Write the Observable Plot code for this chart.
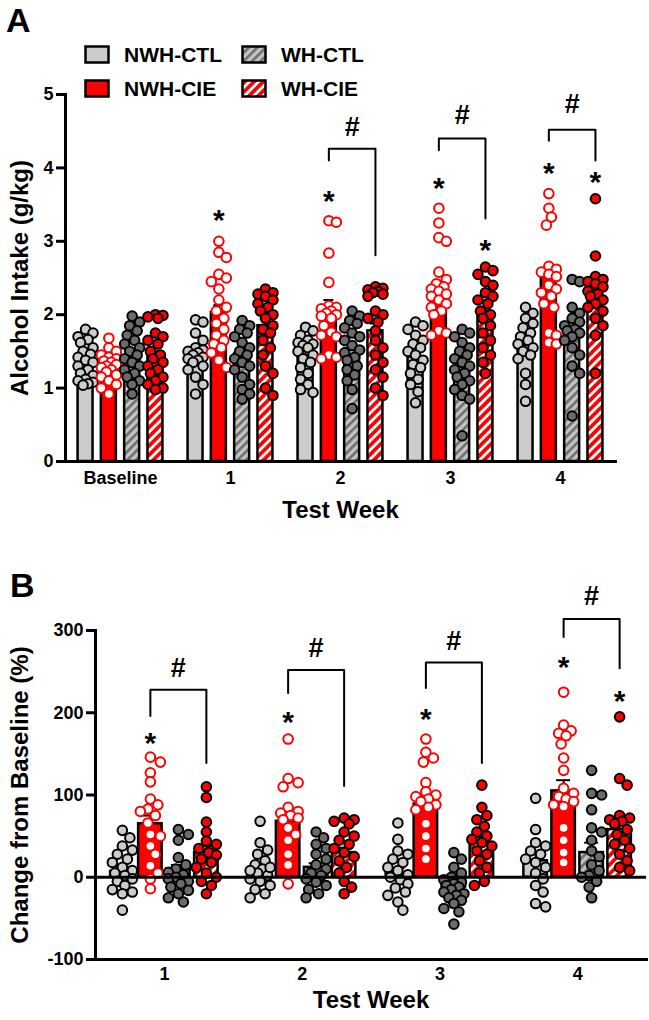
<!DOCTYPE html>
<html>
<head>
<meta charset="utf-8">
<script src="https://cdn.jsdelivr.net/npm/d3@7"></script>
<script src="https://cdn.jsdelivr.net/npm/@observablehq/plot@0.6"></script>
<style>
  body { margin: 0; background: #fff; }
  #fig { position: relative; width: 649px; height: 1020px; overflow: hidden;
         font-family: "Liberation Sans", Arial, sans-serif; font-weight: bold; color: #000; }
  .panel { position: absolute; left: 0; }
  .letter { position: absolute; font-size: 34px; line-height: 1; }
  .key { position: absolute; display: flex; align-items: center; font-size: 21px; line-height: 1; }
  .key svg { margin-right: 14px; }
</style>
</head>
<body>
<svg width="0" height="0" style="position:absolute">
  <defs>
    <pattern id="hatch-gray" patternUnits="userSpaceOnUse" width="6" height="6" patternTransform="rotate(45)">
      <rect width="6" height="6" fill="#c4c4c4"></rect>
      <rect width="2.6" height="6" fill="#6e6e6e"></rect>
    </pattern>
    <pattern id="hatch-red" patternUnits="userSpaceOnUse" width="6.5" height="6.5" patternTransform="rotate(45)">
      <rect width="6.5" height="6.5" fill="#ff0000"></rect>
      <rect width="2.8" height="6.5" fill="#ffffff"></rect>
    </pattern>
  </defs>
</svg>
<div id="fig"></div>
<script>
// ---- Groups and weeks ----
const groups = ["NWH-CTL", "NWH-CIE", "WH-CTL", "WH-CIE"];
const weeksA = ["Baseline", "1", "2", "3", "4"];
const weeksB = ["1", "2", "3", "4"];

// ---- Panel A: alcohol intake (g/kg); one inner list per week ----
const intakeNwhCtl = [
  [1.80, 1.75, 1.70, 1.66, 1.62, 1.55, 1.50, 1.46, 1.42, 1.38, 1.35, 1.30, 1.25, 1.20, 1.17, 1.12, 1.10, 1.08, 1.06, 1.04],
  [1.93, 1.90, 1.75, 1.65, 1.55, 1.52, 1.50, 1.48, 1.45, 1.42, 1.40, 1.38, 1.35, 1.30, 1.25, 1.15, 1.05, 0.92],
  [1.83, 1.78, 1.72, 1.65, 1.62, 1.60, 1.58, 1.55, 1.50, 1.45, 1.40, 1.35, 1.28, 1.20, 1.12, 1.05, 0.98, 0.94],
  [1.90, 1.85, 1.80, 1.72, 1.65, 1.60, 1.55, 1.50, 1.45, 1.38, 1.32, 1.28, 1.20, 1.12, 1.05, 0.95, 0.80],
  [2.10, 2.02, 1.95, 1.88, 1.82, 1.75, 1.70, 1.65, 1.60, 1.55, 1.50, 1.45, 1.40, 1.20, 1.05, 0.82]
];
const intakeNwhCie = [
  [1.68, 1.55, 1.50, 1.45, 1.42, 1.40, 1.37, 1.35, 1.32, 1.30, 1.28, 1.25, 1.22, 1.18, 1.15, 1.10, 1.05, 1.00, 0.92],
  [3.00, 2.85, 2.78, 2.55, 2.50, 2.45, 2.35, 2.20, 2.10, 2.05, 1.95, 1.88, 1.80, 1.72, 1.65, 1.60, 1.55, 1.48, 1.38, 1.28],
  [3.28, 3.26, 2.84, 2.44, 2.12, 2.10, 2.08, 2.05, 2.02, 2.00, 1.98, 1.95, 1.85, 1.76, 1.72, 1.70, 1.45, 1.42, 1.40],
  [3.45, 3.25, 3.05, 3.00, 2.58, 2.48, 2.42, 2.38, 2.35, 2.32, 2.28, 2.25, 2.20, 2.15, 2.10, 2.05, 2.00, 1.78, 1.75, 1.72],
  [3.65, 3.45, 3.33, 3.22, 2.66, 2.62, 2.58, 2.55, 2.52, 2.40, 2.35, 2.30, 2.25, 2.15, 2.10, 1.75, 1.72, 1.62, 1.60]
];
const intakeWhCtl = [
  [1.98, 1.90, 1.85, 1.78, 1.72, 1.65, 1.60, 1.55, 1.50, 1.45, 1.40, 1.35, 1.30, 1.25, 1.20, 1.15, 1.10, 1.05, 0.92],
  [1.92, 1.85, 1.80, 1.75, 1.70, 1.62, 1.55, 1.50, 1.45, 1.40, 1.35, 1.30, 1.25, 1.15, 1.05, 0.98, 0.92, 0.85],
  [2.05, 1.98, 1.92, 1.88, 1.82, 1.75, 1.70, 1.65, 1.58, 1.52, 1.48, 1.42, 1.38, 1.30, 1.25, 1.18, 1.10, 0.98, 0.72],
  [1.80, 1.75, 1.70, 1.62, 1.55, 1.50, 1.45, 1.40, 1.35, 1.30, 1.25, 1.20, 1.15, 1.10, 1.05, 0.98, 0.90, 0.85, 0.35],
  [2.48, 2.45, 2.10, 2.02, 1.95, 1.90, 1.85, 1.80, 1.78, 1.75, 1.70, 1.65, 1.55, 1.45, 1.30, 1.20, 0.62]
];
const intakeWhCie = [
  [2.00, 1.99, 1.97, 1.95, 1.75, 1.70, 1.65, 1.60, 1.50, 1.45, 1.40, 1.35, 1.30, 1.25, 1.20, 1.15, 1.10, 1.05, 1.00, 0.98],
  [2.35, 2.30, 2.28, 2.25, 2.20, 2.15, 2.10, 2.05, 2.00, 1.95, 1.85, 1.80, 1.75, 1.65, 1.55, 1.45, 1.30, 1.20, 1.00, 0.90],
  [2.38, 2.36, 2.34, 2.32, 2.30, 2.28, 2.25, 2.05, 2.00, 1.95, 1.90, 1.78, 1.65, 1.55, 1.45, 1.35, 1.25, 1.15, 1.00, 0.90],
  [2.65, 2.60, 2.55, 2.45, 2.40, 2.30, 2.25, 2.20, 2.15, 2.05, 2.00, 1.95, 1.85, 1.75, 1.65, 1.55, 1.45, 1.35, 1.20],
  [3.58, 2.80, 2.52, 2.48, 2.45, 2.42, 2.38, 2.32, 2.28, 2.25, 2.20, 2.15, 2.10, 2.05, 1.95, 1.85, 1.72, 1.20]
];
// group means and SEM per week (rows follow the group order)
const intakeMeans = [
  [1.35, 1.44, 1.44, 1.42, 1.58],
  [1.27, 2.03, 2.08, 2.36, 2.51],
  [1.41, 1.47, 1.54, 1.24, 1.76],
  [1.43, 1.85, 1.78, 1.97, 2.24]
];
const intakeSems = [
  [0.05, 0.07, 0.06, 0.07, 0.08],
  [0.05, 0.10, 0.12, 0.10, 0.14],
  [0.07, 0.07, 0.07, 0.08, 0.09],
  [0.07, 0.09, 0.10, 0.09, 0.11]
];
// significance marks: * vs control, # between NWH-CIE and WH-CIE
const intakeStars = [
  {week: 1, group: 1, y: 3.39}, {week: 2, group: 1, y: 3.65},
  {week: 3, group: 1, y: 3.83}, {week: 3, group: 3, y: 2.98},
  {week: 4, group: 1, y: 4.03}, {week: 4, group: 3, y: 3.91}
];
const intakeBrackets = [
  {week: 2, top: 4.26, left: 4.10, right: 2.81, hash: 4.55},
  {week: 3, top: 4.40, left: 4.24, right: 3.31, hash: 4.71},
  {week: 4, top: 4.52, left: 4.37, right: 4.10, hash: 4.86}
];

// ---- Panel B: change from baseline (%) ----
const changeNwhCtl = [
  [57, 48, 38, 33, 28, 22, 18, 12, 8, 5, 2, -2, -5, -10, -15, -18, -20, -40],
  [68, 42, 33, 28, 20, 15, 10, 5, 2, -2, -5, -10, -15, -20, -25, 8, 12],
  [66, 46, 32, 28, 22, 18, 12, 8, 3, 0, -3, -8, -13, -18, -22, -30, -40],
  [96, 58, 42, 38, 32, 28, 22, 18, 12, 5, -2, -10, -18, -32, -36]
];
const changeNwhCie = [
  [146, 140, 127, 116, 95, 88, 83, 80, 75, 66, 52, 50, 38, 28, 14, 5, -2, -14],
  [168, 120, 115, 110, 85, 80, 78, 75, 72, 70, 60, 52, 45, 28, 15, -8],
  [168, 152, 145, 140, 115, 104, 100, 98, 95, 92, 88, 85, 82, 65, 50, 35, 22],
  [225, 185, 178, 175, 172, 162, 145, 130, 108, 102, 98, 95, 92, 88, 86, 60, 45, 30, 18]
];
const changeWhCtl = [
  [58, 52, 45, 24, 15, 10, 6, 3, 0, -2, -5, -8, -12, -16, -20, -25, -30],
  [55, 48, 40, 35, 28, 22, 15, 10, 5, 2, -2, -6, -10, -15, -20, -25],
  [30, 22, 12, 5, 0, -3, -6, -8, -10, -12, -15, -18, -20, -22, -25, -28, -32, -38, -42, -57],
  [130, 102, 100, 82, 60, 55, 45, 32, 25, 15, 8, 2, 0, -5, -12, -25]
];
const changeWhCie = [
  [110, 97, 67, 55, 44, 40, 35, 30, 27, 22, 18, 12, 5, 0, -5, -10, -20],
  [72, 70, 68, 65, 55, 50, 45, 40, 35, 30, 25, 20, 12, 5, -5, -12, -20],
  [112, 85, 75, 70, 62, 55, 50, 46, 42, 38, 32, 28, 20, 12, 5, -5, -10],
  [195, 120, 112, 75, 72, 70, 68, 65, 58, 52, 45, 40, 35, 28, 20, 12, 8]
];
const changeMeans = [
  [7, 8, 5, 20],
  [65, 68, 89, 105],
  [10, 12, -12, 30],
  [30, 30, 42, 58]
];
const changeSems = [
  [6, 6, 6, 8],
  [10, 11, 10, 13],
  [5, 5, 5, 12],
  [8, 6, 7, 11]
];
const changeStars = [
  {week: 1, group: 1, y: 173}, {week: 2, group: 1, y: 198},
  {week: 3, group: 1, y: 202}, {week: 4, group: 1, y: 265},
  {week: 4, group: 3, y: 224}
];
const changeBrackets = [
  {week: 1, top: 228, left: 196, right: 139, hash: 254},
  {week: 2, top: 252, left: 224, right: 111, hash: 278},
  {week: 3, top: 261, left: 230, right: 139, hash: 287},
  {week: 4, top: 314, left: 292, right: 254, hash: 342}
];

// ---- Group styles ----
const barFill = ["#cccccc", "#ff0000", "url(#hatch-gray)", "url(#hatch-red)"];
const dotFill = ["#cccccc", "#ffffff", "#6b6b6b", "#ff0000"];
const dotStroke = ["#000000", "#ff0000", "#000000", "#000000"];

// Spread the points of one column sideways (in pixels) so that they overlap less,
// keeping them within +-maxOff of the column centre.
function spread(values, pxY, maxOff, minDist) {
  const order = d3.range(values.length).sort((a, b) => values[b] - values[a]);
  const cands = [0];
  for (let k = 2.5; k <= maxOff + 1e-9; k += 2.5) cands.push(k, -k);
  const placed = [];
  const off = new Array(values.length);
  for (const i of order) {
    const py = values[i] * pxY;
    let best = 0, bestScore = -Infinity;
    for (const c of cands) {
      let dmin = Infinity;
      for (const p of placed) dmin = Math.min(dmin, Math.hypot(p.ox - c, p.py - py));
      if (dmin >= minDist) { best = c; break; }
      if (dmin > bestScore) { bestScore = dmin; best = c; }
    }
    placed.push({ox: best, py});
    off[i] = best;
  }
  return off;
}

function panel(o) {
  const {width, height, margin, xDomain, yDomain, weeks, start} = o;
  const pxX = (width - margin.left - margin.right) / (xDomain[1] - xDomain[0]);
  const pxY = (height - margin.top - margin.bottom) / (yDomain[1] - yDomain[0]);
  const slot = o.slotPx / pxX, half = o.barPx / 2 / pxX, cap = o.capPx / pxX;
  const xc = (w, g) => start + w + (g - 1.5) * slot;

  const bars = [], points = [];
  groups.forEach((_, g) => {
    weeks.forEach((_, w) => {
      const c = xc(w, g);
      bars.push({g, x1: c - half, x2: c + half, xc: c, mean: o.means[g][w], sem: o.sems[g][w]});
      const vals = o.values[g][w];
      const offs = spread(vals, pxY, o.spreadPx, 9);
      vals.forEach((v, i) => points.push({g, x: c + offs[i] / pxX, y: v}));
    });
  });
  const starPts = o.stars.map(d => ({x: xc(d.week - start, d.group), y: d.y}));
  const bracketPath = o.brackets.flatMap(d => {
    const xl = xc(d.week - start, 1), xr = xc(d.week - start, 3);
    return [
      {id: d.week, x: xl, y: d.left}, {id: d.week, x: xl, y: d.top},
      {id: d.week, x: xr, y: d.top}, {id: d.week, x: xr, y: d.right}
    ];
  });
  const hashPts = o.brackets.map(d => ({x: (xc(d.week - start, 1) + xc(d.week - start, 3)) / 2, y: d.hash}));

  const marks = [];
  groups.forEach((_, g) => {
    marks.push(Plot.rectY(bars.filter(d => d.g === g), {
      x1: "x1", x2: "x2", y1: 0, y2: "mean",
      fill: barFill[g], stroke: "#000", strokeWidth: 2.5
    }));
  });
  marks.push(
    Plot.ruleX(bars, {x: "xc", y1: "mean", y2: d => d.mean + d.sem, stroke: "#000", strokeWidth: 2}),
    Plot.ruleY(bars, {y: d => d.mean + d.sem, x1: d => d.xc - cap, x2: d => d.xc + cap, stroke: "#000", strokeWidth: 2})
  );
  groups.forEach((_, g) => {
    marks.push(Plot.dot(points.filter(d => d.g === g), {
      x: "x", y: "y", r: 4.8, fill: dotFill[g], stroke: dotStroke[g], strokeWidth: 2
    }));
  });
  if (o.zeroLine) marks.push(Plot.ruleY([0], {stroke: "#000", strokeWidth: 3}));
  marks.push(
    Plot.frame({anchor: "left", stroke: "#000", strokeWidth: 3, strokeLinecap: "square"}),
    Plot.frame({anchor: "bottom", stroke: "#000", strokeWidth: 3, strokeLinecap: "square"}),
    Plot.axisY({ticks: o.yTicks, tickFormat: d => String(d), tickSize: 9, tickPadding: 3, strokeWidth: 3}),
    Plot.axisX({ticks: weeks.map((_, i) => start + i), tickFormat: v => weeks[v - start], tickSize: 0, tickPadding: o.xTickPad}),
    Plot.line(bracketPath, {x: "x", y: "y", z: "id", stroke: "#000", strokeWidth: 2}),
    Plot.text(starPts, {x: "x", y: "y", text: () => "*", fontSize: 30, dy: 8}),
    Plot.text(hashPts, {x: "x", y: "y", text: () => "#", fontSize: 27}),
    Plot.text([o.yTitle], {frameAnchor: "left", textAnchor: "middle", rotate: -90, dx: o.yTitleDx, fontSize: 24}),
    Plot.text([o.xTitle], {frameAnchor: "bottom", textAnchor: "middle", dy: o.xTitleDy, fontSize: 24})
  );

  return Plot.plot({
    width, height,
    marginTop: margin.top, marginRight: margin.right, marginBottom: margin.bottom, marginLeft: margin.left,
    style: {fontFamily: "'Liberation Sans', Arial, sans-serif", fontWeight: "bold", fontSize: "18px",
            color: "#000", background: "transparent", overflow: "visible"},
    x: {domain: xDomain, axis: null},
    y: {domain: yDomain, axis: null},
    marks
  });
}

const fig = document.getElementById("fig");

const plotA = panel({
  width: 649, height: 530, margin: {top: 94, right: 34, bottom: 69, left: 65},
  xDomain: [-0.5, 4.5], yDomain: [0, 5], yTicks: [0, 1, 2, 3, 4, 5],
  weeks: weeksA, start: 0,
  values: [intakeNwhCtl, intakeNwhCie, intakeWhCtl, intakeWhCie],
  means: intakeMeans, sems: intakeSems, stars: intakeStars, brackets: intakeBrackets,
  slotPx: 23.3, barPx: 15, capPx: 5, spreadPx: 9, xTickPad: 10,
  yTitle: "Alcohol Intake (g/kg)", yTitleDx: -45, xTitle: "Test Week", xTitleDy: 56
});
plotA.classList.add("panel");
plotA.style.position = "absolute";
plotA.style.top = "0px";
fig.appendChild(plotA);

const plotB = panel({
  width: 649, height: 490, margin: {top: 100, right: 3, bottom: 61, left: 95},
  xDomain: [0.5, 4.5], yDomain: [-100, 300], yTicks: [-100, 0, 100, 200, 300],
  weeks: weeksB, start: 1,
  values: [changeNwhCtl, changeNwhCie, changeWhCtl, changeWhCie],
  means: changeMeans, sems: changeSems, stars: changeStars, brackets: changeBrackets,
  slotPx: 28, barPx: 23.5, capPx: 7, spreadPx: 12, xTickPad: 8, zeroLine: true,
  yTitle: "Change from Baseline (%)", yTitleDx: -75, xTitle: "Test Week", xTitleDy: 48
});
plotB.classList.add("panel");
plotB.style.position = "absolute";
plotB.style.top = "530px";
fig.appendChild(plotB);

// Panel letters
for (const [t, left, top] of [["A", 6, 3], ["B", 10, 568]]) {
  const el = document.createElement("div");
  el.className = "letter";
  el.textContent = t;
  el.style.left = left + "px";
  el.style.top = top + "px";
  fig.appendChild(el);
}

// Legend (two columns, two rows)
const keyPos = [[84, 44], [84, 78], [241, 44], [241, 78]];
groups.forEach((name, g) => {
  const el = document.createElement("div");
  el.className = "key";
  el.style.left = keyPos[g][0] + "px";
  el.style.top = keyPos[g][1] + "px";
  el.innerHTML = `<svg width="26" height="19"><rect x="1.5" y="1.5" width="23" height="16" fill="${barFill[g]}" stroke="#000" stroke-width="2.5"></rect></svg><span>${name}</span>`;
  fig.appendChild(el);
});
</script>
</body>
</html>
